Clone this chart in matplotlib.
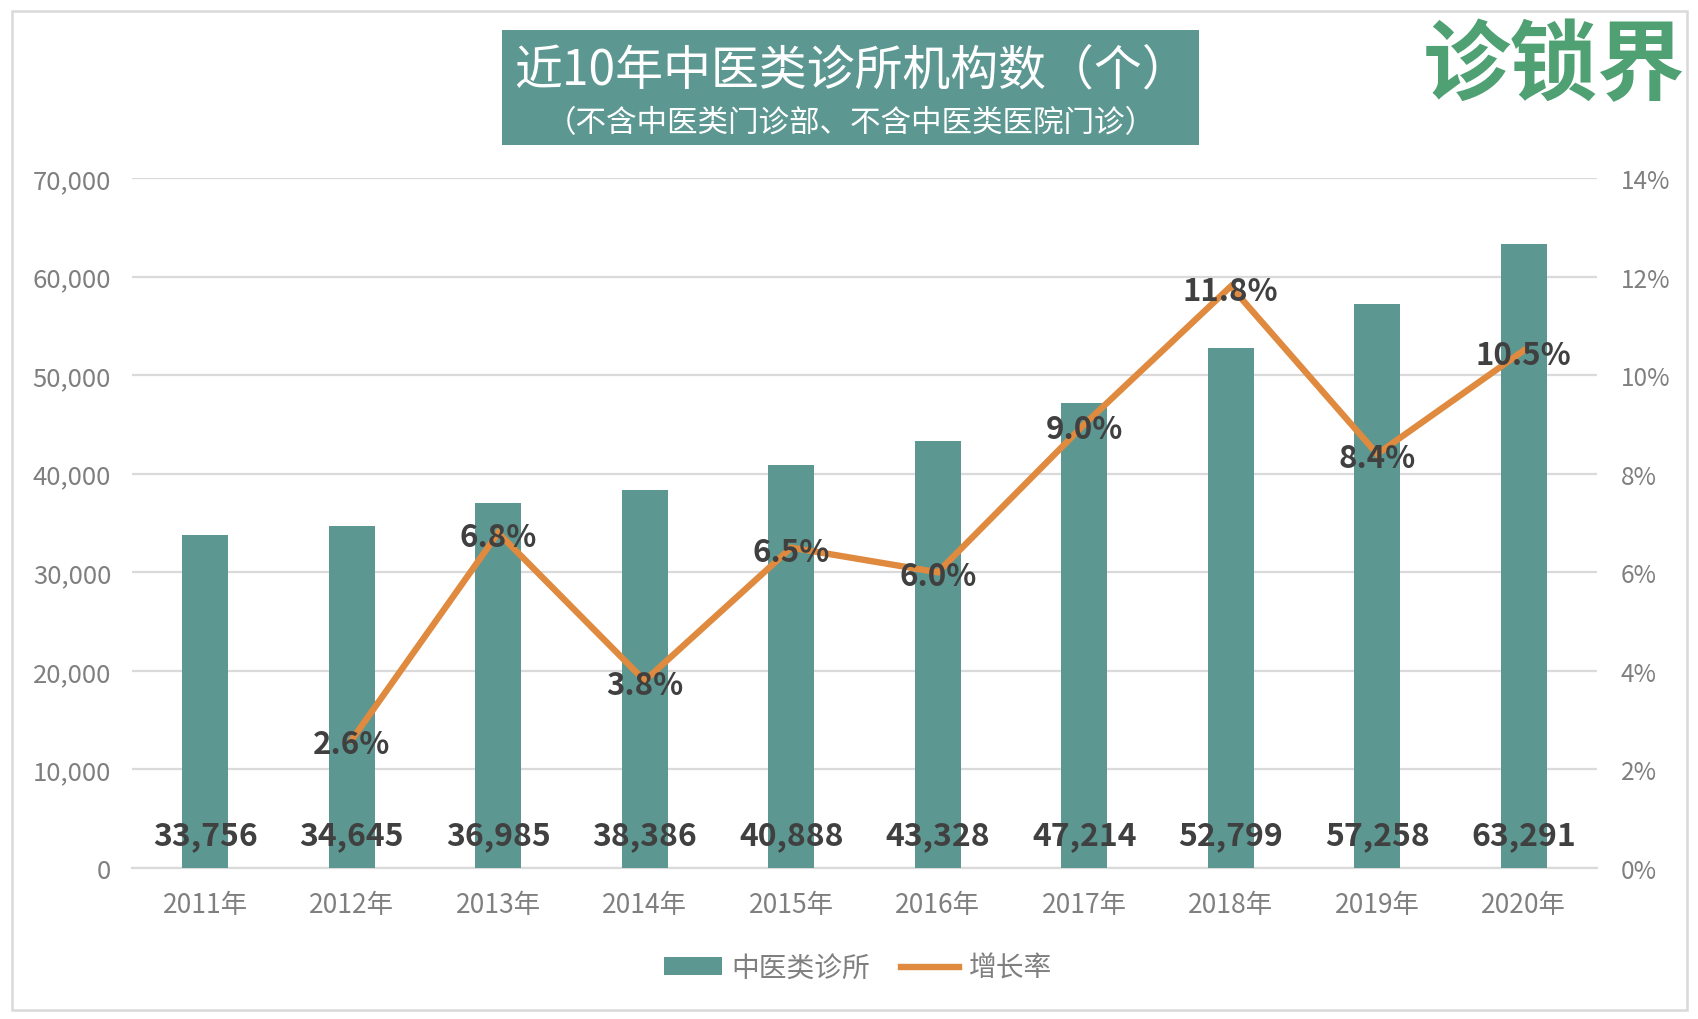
import matplotlib
matplotlib.use("Agg")
import matplotlib.pyplot as plt
from matplotlib.patches import Rectangle
from matplotlib.lines import Line2D
from matplotlib.ticker import FuncFormatter, MultipleLocator
import numpy as np

plt.rcParams['font.family'] = ['Noto Sans CJK SC', 'DejaVu Sans']

years = ['2011年', '2012年', '2013年', '2014年', '2015年', '2016年', '2017年', '2018年', '2019年', '2020年']
clinics = [33756, 34645, 36985, 38386, 40888, 43328, 47214, 52799, 57258, 63291]
growth = [np.nan, 2.6, 6.8, 3.8, 6.5, 6.0, 9.0, 11.8, 8.4, 10.5]
series_names = ['中医类诊所', '增长率']
title_main = '近10年中医类诊所机构数（个）'
title_sub = '（不含中医类门诊部、不含中医类医院门诊）'
brand = '诊锁界'

TEAL = '#5C9791'
ORANGE = '#DF8A3E'
GRID = '#DADADA'
TICK = '#7F7F7F'
DARK = '#404040'
W, H = 1698, 1020

fig = plt.figure(figsize=(W / 100, H / 100), dpi=100, facecolor='white')
ax = fig.add_axes([132 / W, 1 - 869 / H, (1597 - 132) / W, (869 - 179) / H])
ax2 = ax.twinx()

fig.add_artist(Rectangle((12 / W, 1 - 1011 / H), 1675 / W, 999 / H, transform=fig.transFigure,
                         fill=False, edgecolor='#D9D9D9', lw=1.8))
fig.add_artist(Rectangle((502 / W, 1 - 146 / H), 697 / W, 115 / H, transform=fig.transFigure,
                         facecolor=TEAL, edgecolor='none'))

x = np.arange(len(years))
ax.bar(x, clinics, width=0.315, color=TEAL, zorder=3)
ax.set_xlim(-0.5, 9.5)
ax.set_ylim(0, 70000)
ax.yaxis.set_major_locator(MultipleLocator(10000))
ax.yaxis.set_major_formatter(FuncFormatter(lambda v, _: f'{int(v):,}'))
ax.set_xticks(x, years)
ax.grid(axis='y', color=GRID, lw=1.6, zorder=0)
ax.set_axisbelow(True)
for s in ['top', 'left', 'right']:
    ax.spines[s].set_visible(False)
ax.spines['bottom'].set_color(GRID)
ax.spines['bottom'].set_linewidth(1.6)
ax.tick_params(axis='x', length=0, labelsize=19, labelcolor=TICK, pad=16.5)
ax.tick_params(axis='y', length=0, labelsize=18.5, labelcolor=TICK, pad=15)

ax2.plot(x, growth, color=ORANGE, lw=4.6, solid_joinstyle='miter', zorder=4)
ax2.set_ylim(0, 14)
ax2.yaxis.set_major_locator(MultipleLocator(2))
ax2.yaxis.set_major_formatter(FuncFormatter(lambda v, _: f'{int(v)}%'))
ax2.tick_params(axis='y', length=0, labelsize=17.5, labelcolor=TICK, pad=17)
for s in ax2.spines.values():
    s.set_visible(False)

for xi, v in zip(x, clinics):
    ax2.annotate(f'{v:,}', (xi, 0), xytext=(0, 24), textcoords='offset points', ha='center', va='center',
                 fontsize=23, fontweight='bold', color=DARK, zorder=6)
for xi, g in zip(x, growth):
    if not np.isnan(g):
        ax2.annotate(f'{g:.1f}%', (xi, g), xytext=(0, -3), textcoords='offset points', ha='center', va='center',
                     fontsize=22.5, fontweight='bold', color=DARK, zorder=6)

fig.text(514 / W, 1 - 71 / H, title_main, color='white', fontsize=34.5, ha='left', va='center', fontweight='light')
fig.text(546 / W, 1 - 124 / H, title_sub, color='white', fontsize=22, ha='left', va='center', fontweight='light')
fig.text(1554 / W, 1 - 68 / H, brand, color='#4FA073', fontsize=63, ha='center', va='center', fontweight='bold')

handles = [Rectangle((0, 0), 1, 1, facecolor=TEAL, edgecolor='none'),
           Line2D([0], [0], color=ORANGE, lw=4.6)]
fig.legend(handles, series_names, loc='center', bbox_to_anchor=(858 / W, 1 - 969 / H), ncol=2, frameon=False,
           fontsize=20, labelcolor=TICK, handlelength=2.1, handleheight=0.6, handletextpad=0.35,
           columnspacing=1.1)

fig.savefig('out.png', dpi=100)
